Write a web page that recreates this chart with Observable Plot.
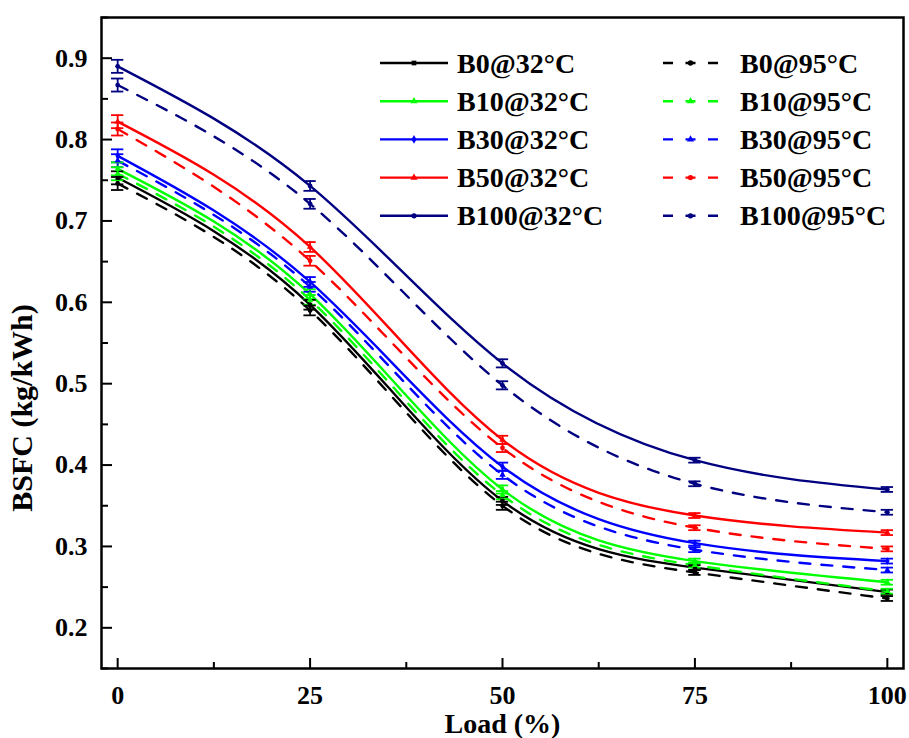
<!DOCTYPE html>
<html>
<head>
<meta charset="utf-8">
<script src="https://cdn.jsdelivr.net/npm/d3@7"></script>
<script src="https://cdn.jsdelivr.net/npm/@observablehq/plot@0.6"></script>
<style>
  body { margin: 0; background: #fff; }
  #chart { position: relative; width: 909px; height: 738px; }
  #chart svg { position: absolute; left: 0; top: 0; }
  #legend { pointer-events: none; }
</style>
</head>
<body>
<div id="chart"></div>
<script>
// Engine load (%) at which BSFC was measured
const loads = [0, 25, 50, 75, 100];

// BSFC (kg/kWh) per blend and intake temperature
const b0_32   = [0.753, 0.597, 0.356, 0.274, 0.244];
const b0_95   = [0.746, 0.590, 0.350, 0.268, 0.236];
const b10_32  = [0.764, 0.610, 0.370, 0.282, 0.256];
const b10_95  = [0.758, 0.603, 0.363, 0.277, 0.245];
const b30_32  = [0.780, 0.625, 0.398, 0.304, 0.282];
const b30_95  = [0.774, 0.619, 0.388, 0.296, 0.271];
const b50_32  = [0.822, 0.668, 0.431, 0.338, 0.317];
const b50_95  = [0.813, 0.651, 0.421, 0.323, 0.297];
const b100_32 = [0.890, 0.743, 0.525, 0.406, 0.370];
const b100_95 = [0.867, 0.721, 0.498, 0.377, 0.342];

// Half-height of the error bars at each load
const errs = [0.008, 0.006, 0.005, 0.003, 0.003];

// Series names
const names = [
  "B0@32°C", "B10@32°C", "B30@32°C", "B50@32°C", "B100@32°C",
  "B0@95°C", "B10@95°C", "B30@95°C", "B50@95°C", "B100@95°C"
];

// Axis ticks
const xTicks = [0, 25, 50, 75, 100];
const xMinor = [12.5, 37.5, 62.5, 87.5];
const yTicks = [0.2, 0.3, 0.4, 0.5, 0.6, 0.7, 0.8, 0.9];
const yMinor = [0.15, 0.25, 0.35, 0.45, 0.55, 0.65, 0.75, 0.85, 0.95];

const W = 909, H = 738;
const mL = 101, mR = 6, mT = 17, mB = 70;
const innerW = W - mL - mR, innerH = H - mT - mB;
const FONT = "'Liberation Serif', 'Times New Roman', Times, serif";

const series = [
  {name: names[0], values: b0_32,   color: "#000000", dashed: false, symbol: "square"},
  {name: names[1], values: b10_32,  color: "#00ff00", dashed: false, symbol: "triangle"},
  {name: names[2], values: b30_32,  color: "#0000ff", dashed: false, symbol: "diamond"},
  {name: names[3], values: b50_32,  color: "#ff0000", dashed: false, symbol: "triangle"},
  {name: names[4], values: b100_32, color: "#000080", dashed: false, symbol: "circle"},
  {name: names[5], values: b0_95,   color: "#000000", dashed: true,  symbol: "circle"},
  {name: names[6], values: b10_95,  color: "#00ff00", dashed: true,  symbol: "triangle"},
  {name: names[7], values: b30_95,  color: "#0000ff", dashed: true,  symbol: "triangle"},
  {name: names[8], values: b50_95,  color: "#ff0000", dashed: true,  symbol: "circle"},
  {name: names[9], values: b100_95, color: "#000080", dashed: true,  symbol: "circle"}
];

const rows = series.flatMap(s => s.values.map((v, i) => ({
  name: s.name, load: loads[i], bsfc: v, err: errs[i],
  color: s.color, dashed: s.dashed, symbol: s.symbol
})));

const solid = rows.filter(d => !d.dashed);
const dashed = rows.filter(d => d.dashed);
const capHalf = 0.8; // half-width of error caps in load units

const chart = Plot.plot({
  width: W, height: H,
  marginLeft: mL, marginRight: mR, marginTop: mT, marginBottom: mB,
  style: {fontFamily: FONT, fontWeight: "bold", background: "#fff", color: "#000"},
  x: {domain: [-2.1, 102.1], axis: null},
  y: {domain: [0.15, 0.95], axis: null},
  color: {type: "identity"},
  marks: [
    // curves
    Plot.line(solid, {x: "load", y: "bsfc", z: "name", stroke: "color", strokeWidth: 2.4, curve: "natural"}),
    Plot.line(dashed, {x: "load", y: "bsfc", z: "name", stroke: "color", strokeWidth: 2.4, curve: "natural", strokeDasharray: "11,11"}),
    // error bars
    Plot.ruleX(rows, {x: "load", y1: d => d.bsfc - d.err, y2: d => d.bsfc + d.err, stroke: "color", strokeWidth: 1.8}),
    Plot.ruleY(rows, {y: d => d.bsfc - d.err, x1: d => d.load - capHalf, x2: d => d.load + capHalf, stroke: "color", strokeWidth: 1.8}),
    Plot.ruleY(rows, {y: d => d.bsfc + d.err, x1: d => d.load - capHalf, x2: d => d.load + capHalf, stroke: "color", strokeWidth: 1.8}),
    // markers
    Plot.dot(rows, {x: "load", y: "bsfc", symbol: "symbol", fill: "color", r: 2.4}),
    // inward ticks
    Plot.tickX(xTicks, {x: d => d, insetTop: innerH - 10, stroke: "#000", strokeWidth: 2}),
    Plot.tickX(xMinor, {x: d => d, insetTop: innerH - 6, stroke: "#000", strokeWidth: 2}),
    Plot.tickY(yTicks, {y: d => d, insetRight: innerW - 11, stroke: "#000", strokeWidth: 2}),
    Plot.tickY(yMinor, {y: d => d, insetRight: innerW - 7, stroke: "#000", strokeWidth: 2}),
    // tick labels
    Plot.axisX(xTicks, {tickSize: 0, tickPadding: 17, fontSize: 26, fontWeight: "bold", label: null, tickFormat: d => String(d)}),
    Plot.axisY(yTicks, {tickSize: 0, tickPadding: 14, fontSize: 26, fontWeight: "bold", label: null, tickFormat: d3.format(".1f")}),
    // axis titles
    Plot.text(["Load (%)"], {frameAnchor: "bottom", dy: 56, fontSize: 28, fontWeight: "bold", lineAnchor: "middle", fill: "#000"}),
    Plot.text(["BSFC (kg/kWh)"], {frameAnchor: "left", rotate: -90, textAnchor: "middle", dx: -79, dy: 65, fontSize: 30, fontWeight: "bold", lineAnchor: "middle", fill: "#000"}),
    // plot box
    Plot.frame({stroke: "#000", strokeWidth: 2.5})
  ]
});

const root = document.getElementById("chart");
root.appendChild(chart);

// Legend: two columns, 32 °C solid on the left and 95 °C dashed on the right
const leg = d3.select(root).append("svg")
  .attr("id", "legend")
  .attr("width", W).attr("height", H)
  .style("font-family", FONT).style("font-weight", "bold");

const symbolOf = {square: d3.symbolSquare, triangle: d3.symbolTriangle, diamond: d3.symbolDiamond, circle: d3.symbolCircle};
const cols = [
  {x0: 380, x1: 448, tx: 457, dash: null},
  {x0: 663, x1: 718, tx: 740, dash: "10,12.5"}
];
series.forEach((s, i) => {
  const col = cols[s.dashed ? 1 : 0];
  const row = i % 5;
  const y = 63 + row * 38.2;
  const g = leg.append("g");
  g.append("line")
    .attr("x1", col.x0).attr("x2", col.x1).attr("y1", y).attr("y2", y)
    .attr("stroke", s.color).attr("stroke-width", 2.4)
    .attr("stroke-dasharray", col.dash);
  g.append("path")
    .attr("transform", `translate(${(col.x0 + col.x1) / 2},${y})`)
    .attr("d", d3.symbol(symbolOf[s.symbol], 22)())
    .attr("fill", s.color);
  g.append("text")
    .attr("x", col.tx).attr("y", y).attr("dy", "0.34em")
    .attr("font-size", 28).attr("fill", "#000")
    .text(s.name);
});
</script>
</body>
</html>
